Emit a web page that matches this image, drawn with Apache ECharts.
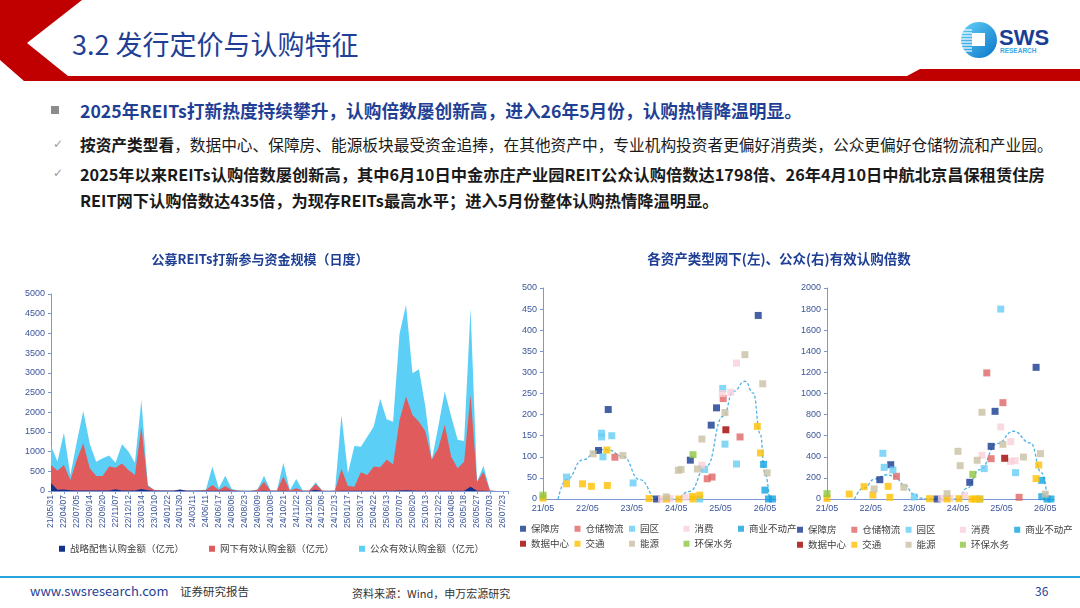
<!DOCTYPE html>
<html>
<head>
<meta charset="utf-8">
<script src="https://cdn.jsdelivr.net/npm/echarts@6/dist/echarts.min.js"></script>
<style>
  body { margin: 0; width: 1080px; height: 608px; overflow: hidden; background: #fff; position: relative;
         font-family: "Noto Sans CJK SC", sans-serif; }
  .abs { position: absolute; white-space: nowrap; }
  #main { position: absolute; left: 0; top: 0; width: 1080px; height: 608px; }
  .title { left: 72px; top: 25px; font-size: 27px; line-height: 38px; color: #1f3f95; }
  .l1 { left: 80px; top: 99px; font-size: 17.7px; line-height: 22px; font-weight: bold; color: #1f3f95; }
  .l2 { left: 80px; top: 134px; font-size: 15.7px; line-height: 22px; color: #1a1a1a; }
  .l3 { left: 80px; top: 161px; font-size: 16.25px; line-height: 26px; font-weight: bold; color: #1a1a1a; }
  .mark { color: #9a9a9a; font-family: "DejaVu Sans", sans-serif; font-size: 12px; }
</style>
</head>
<body>
<svg class="abs" width="1080" height="608" style="left:0;top:0">
  <defs>
    <linearGradient id="lg" x1="0" y1="0" x2="1" y2="1">
      <stop offset="0" stop-color="#63d3fa"/>
      <stop offset="1" stop-color="#0a74c6"/>
    </linearGradient>
  </defs>
  <!-- 页眉红色折线 -->
  <polygon points="0,0 82,0 27,43 68,76 907,76 920,69 1080,69 1080,81 24,81 0,60" fill="#c00000"/>
  <!-- logo -->
  <circle cx="979" cy="40" r="18" fill="url(#lg)"/>
  <rect x="972" y="33" width="13" height="13" fill="#fff"/>
  <g stroke="#fff" stroke-width="1.2">
    <line x1="961" y1="30" x2="972" y2="30"/><line x1="961" y1="33" x2="972" y2="33"/>
    <line x1="961" y1="36" x2="972" y2="36"/><line x1="961" y1="39" x2="972" y2="39"/>
    <line x1="961" y1="42" x2="972" y2="42"/><line x1="961" y1="45" x2="972" y2="45"/>
    <line x1="961" y1="48" x2="972" y2="48"/><line x1="962" y1="51" x2="972" y2="51"/>
  </g>
  <text x="999" y="45" font-family="Liberation Sans, sans-serif" font-weight="bold" font-size="22" fill="#1a3e94">SWS</text>
  <text x="1000" y="53" font-family="Liberation Sans, sans-serif" font-weight="bold" font-size="6.5" fill="#3aa6e6">RESEARCH</text>
  <!-- 页脚线 -->
  <rect x="0" y="576" width="1080" height="2" fill="#29a3db"/>
  <rect x="51" y="106" width="8" height="8" fill="#8c8c8c"/>
</svg>

<div class="abs title">3.2 发行定价与认购特征</div>
<div class="abs l1">2025年REITs打新热度持续攀升，认购倍数屡创新高，进入26年5月份，认购热情降温明显。</div>
<div class="abs mark" style="left:53px;top:137px;">✓</div>
<div class="abs l2"><b>按资产类型看</b>，数据中心、保障房、能源板块最受资金追捧，在其他资产中，专业机构投资者更偏好消费类，公众更偏好仓储物流和产业园。</div>
<div class="abs mark" style="left:53px;top:166px;">✓</div>
<div class="abs l3">2025年以来REITs认购倍数屡创新高，其中6月10日中金亦庄产业园REIT公众认购倍数达1798倍、26年4月10日中航北京昌保租赁住房<br>REIT网下认购倍数达435倍，为现存REITs最高水平；进入5月份整体认购热情降温明显。</div>

<div class="abs" style="left:30px;top:582px;font-size:13px;line-height:18px;color:#1f3f95;">www.swsresearch.com</div>
<div class="abs" style="left:180px;top:583px;font-size:11.5px;line-height:16px;color:#333;">证券研究报告</div>
<div class="abs" style="left:352px;top:585px;font-size:11px;line-height:16px;color:#333;">资料来源：Wind，申万宏源研究</div>
<div class="abs" style="left:1035px;top:583px;font-size:12px;line-height:16px;color:#1f3f95;">36</div>

<div id="main"></div>
<script>
// 左图：打新参与资金（亿元），每半个刻度一个点
var tickLabels = ['21/05/31','22/04/07','22/07/05','22/09/14','22/09/20','22/11/07','22/12/12','23/03/14','23/10/10',
    '24/01/22','24/01/30','24/03/11','24/06/11','24/06/17','24/08/06','24/08/23','24/09/09','24/10/08','24/10/21',
    '24/11/22','24/12/02','24/12/06','24/12/13','25/01/17','25/03/17','25/04/22','25/06/13','25/07/07','25/08/20',
    '25/10/13','25/12/22','26/04/08','26/05/18','26/05/27','26/07/03','26/07/23'];
var strategicAmt = [200,30,40,20,10,10,10,10,10,15,45,10,10,10,50,20,5,5,5,5,30,5,5,5,5,5,5,5,5,0,
    0,0,0,5,0,0,5,0,0,0,0,30,0,0,0,5,5,5,5,5,5,5,5,5,10,20,10,5,5,5,5,5,5,5,5,110,5,5,0,0,0];
var offlineAmt = [460,485,620,260,780,1200,565,370,370,605,545,690,525,395,1585,107,20,5,5,5,5,5,5,10,20,145,20,122,20,10,
    5,5,30,232,10,10,360,10,68,10,10,148,10,5,10,555,122,105,470,400,615,595,785,675,1790,2380,1920,1755,1505,785,
    1080,1675,865,570,740,2330,232,485,10,0,0];
var publicAmt = [490,235,820,120,460,820,625,365,450,280,130,485,465,315,675,23,0,10,5,5,5,5,5,5,5,470,45,263,25,10,
    5,5,10,153,10,5,355,10,237,5,5,42,0,0,0,1370,323,1030,650,975,1015,1740,1030,1080,2200,2330,1060,1330,630,0,
    550,845,1020,725,525,2200,0,150,0,0,0];
var amtNames = ['战略配售认购金额（亿元）', '网下有效认购金额（亿元）', '公众有效认购金额（亿元）'];
var amtColors = ['#14318a', '#e05b5b', '#5ccff7'];

// 右两图：[距21/05的年数, 认购倍数]
var yearLabels = ['21/05','22/05','23/05','24/05','25/05','26/05'];
var typeNames = ['保障房','仓储物流','园区','消费','商业不动产','数据中心','交通','能源','环保水务'];
var typeColors = ['#173a8e','#e06464','#66cdf5','#f9d0d8','#10a2e2','#a00000','#ffc000','#c9c0a3','#8dc63f'];

var offHousing = [[1.25,115],[1.47,212],[2.56,0],[3.32,92],[3.79,175],[3.91,216],[4.85,435]];
var offLogistics = [[1.62,99],[3.70,48],[3.81,52],[4.06,238],[4.44,147]];
var offPark = [[0.53,52],[1.32,156],[1.32,147],[1.35,100],[1.55,150],[2.03,38],[3.53,0],[3.64,70],[4.05,262],[4.10,130],[4.36,83]];
var offConsumer = [[2.67,0],[2.86,1],[3.2,4],[3.58,80],[4.04,250],[4.23,253],[4.36,322]];
var offCommercial = [[4.97,82],[5.0,21],[5.08,0],[5.17,0]];
var offDataCenter = [[4.12,164]];
var offTransport = [[0,2],[0.53,36],[0.89,36],[1.09,30],[1.44,116],[1.45,32],[2.39,1],[2.78,0],[3.06,0],[3.37,6],[3.38,0],[3.53,9],[4.83,172],[4.90,109]];
var offEnergy = [[1.13,107],[1.80,103],[2.78,5],[3.05,68],[3.11,70],[3.48,71],[3.58,142],[4.10,205],[4.55,342],[4.95,273],[5.05,62]];
var offEco = [[0,9],[3.38,105]];
var offTrend = [[0.34,0],[0.53,46],[0.9,93],[1.25,117],[1.45,117],[1.8,101],[2.18,46],[2.56,2],[2.7,0],[3.0,0],
    [3.3,18],[3.68,77],[4.06,196],[4.29,255],[4.55,279],[4.74,251],[4.89,156],[5.0,62],[5.1,0]];

var pubHousing = [[1.21,183],[1.46,325],[2.52,0],[3.27,158],[3.76,499],[3.85,831],[4.79,1248]];
var pubLogistics = [[1.59,215],[3.66,1195],[3.76,382],[4.03,913],[4.40,16]];
var pubPark = [[1.28,433],[1.31,300],[1.51,275],[2.0,19],[3.50,0],[3.60,288],[3.98,1800],[4.32,250]];
var pubConsumer = [[2.62,6],[2.82,6],[3.15,32],[3.55,414],[3.98,683],[4.2,357],[4.21,543],[4.31,363]];
var pubCommercial = [[4.92,177],[4.92,22],[5.04,0],[5.13,0]];
var pubDataCenter = [[4.07,386]];
var pubTransport = [[0,6],[0.51,47],[0.85,117],[1.05,38],[1.40,120],[1.44,16],[2.35,3],[2.75,0],[3.02,3],[3.32,0],[3.40,0],[3.50,0],[4.79,193],[4.85,322]];
var pubEnergy = [[1.08,95],[1.76,111],[2.75,51],[3.0,452],[3.05,316],[3.44,367],[3.55,822],[4.03,518],[4.50,398],[4.89,430],[5.0,47]];
var pubEco = [[0,51],[3.34,234]];
var pubTrend = [[0.63,0],[0.84,104],[1.1,190],[1.37,230],[1.55,215],[1.76,136],[2.0,45],[2.14,9],[2.25,0],[3.0,0],
    [3.2,100],[3.5,278],[3.9,525],[4.27,642],[4.66,531],[4.92,247],[5.04,25]];

var offlineByType = [offHousing, offLogistics, offPark, offConsumer, offCommercial, offDataCenter, offTransport, offEnergy, offEco];
var publicByType = [pubHousing, pubLogistics, pubPark, pubConsumer, pubCommercial, pubDataCenter, pubTransport, pubEnergy, pubEco];

var axisBlue = '#7d97d2';
var labelBlue = '#3b5597';
var numFont = 'Liberation Sans, Noto Sans CJK SC, sans-serif';

// 手工叠加：每层画累计值，后面的层在下方
var layers = [strategicAmt, offlineAmt, publicAmt];
var cumLayers = [];
layers.forEach(function(arr, k) {
    cumLayers.push(arr.map(function(v, i) {
        return [i / 2, k === 0 ? v : cumLayers[k - 1][i][1] + v];
    }));
});

function legendItem(name, left, top) {
    return {
        data: [name], left: left, top: top, padding: 0, icon: 'rect',
        itemWidth: 6, itemHeight: 6, selectedMode: false,
        textStyle: { fontSize: 9.5, color: '#404040', fontFamily: 'Noto Sans CJK SC' }
    };
}

function plainNum(v) { return String(v); }

function valueYAxis(grid, max, interval) {
    return {
        type: 'value', gridIndex: grid, min: 0, max: max, interval: interval,
        axisLine: { show: true, lineStyle: { color: axisBlue } },
        axisTick: { show: true, length: 3, lineStyle: { color: axisBlue } },
        axisLabel: { fontSize: 9, color: labelBlue, margin: 6, fontFamily: numFont, formatter: plainNum },
        splitLine: { show: false }
    };
}

function yearXAxis(grid, max) {
    return {
        type: 'value', gridIndex: grid, min: 0, max: max, interval: 1,
        axisLine: { show: true, onZero: false, lineStyle: { color: axisBlue } },
        axisTick: { show: false },
        axisLabel: { fontSize: 9, color: labelBlue, margin: 5, fontFamily: numFont,
            formatter: function(v) { return yearLabels[v] || ''; } },
        splitLine: { show: false }
    };
}

var series = [];
var legends = [];

// 左图面积
cumLayers.forEach(function(data, k) {
    series.push({
        name: amtNames[k], type: 'line', xAxisIndex: 0, yAxisIndex: 0,
        data: data, symbol: 'none', lineStyle: { width: 0 },
        itemStyle: { color: amtColors[k] },
        areaStyle: { color: amtColors[k], opacity: 1 },
        z: 5 - k
    });
    legends.push(legendItem(amtNames[k], 59 + k * 150, 544));
});

// 散点
typeNames.forEach(function(name, k) {
    series.push({
        name: name, type: 'scatter', xAxisIndex: 1, yAxisIndex: 1, data: offlineByType[k],
        symbol: 'rect', symbolSize: 7, itemStyle: { color: typeColors[k] }
    });
    series.push({
        name: name, type: 'scatter', xAxisIndex: 2, yAxisIndex: 2, data: publicByType[k],
        symbol: 'rect', symbolSize: 7, itemStyle: { color: typeColors[k] }
    });
    var row = k < 5 ? 0 : 1;
    var col = k < 5 ? k : k - 5;
    legends.push(legendItem(name, 520 + col * 54.5, 524 + row * 15));
    legends.push(legendItem(name, 797 + col * 54.3, 525 + row * 15));
});

[[offTrend, 1], [pubTrend, 2]].forEach(function(t) {
    series.push({
        type: 'line', xAxisIndex: t[1], yAxisIndex: t[1], data: t[0], smooth: 0.5, smoothMonotone: 'x',
        symbol: 'none', lineStyle: { type: [3, 2], width: 1.3, color: '#4db3e6' }, z: 1
    });
});

var chart = echarts.init(document.getElementById('main'));
chart.setOption({
    animation: false,
    textStyle: { fontFamily: 'Noto Sans CJK SC' },
    graphic: [
        { type: 'text', x: 260, y: 259, style: { text: '公募REITs打新参与资金规模（日度）', fill: '#1f3f95',
            font: 'bold 13px "Noto Sans CJK SC"', textAlign: 'center', textVerticalAlign: 'middle' } },
        { type: 'text', x: 779, y: 259, style: { text: '各资产类型网下(左)、公众(右)有效认购倍数', fill: '#1f3f95',
            font: 'bold 13.5px "Noto Sans CJK SC"', textAlign: 'center', textVerticalAlign: 'middle' } }
    ],
    grid: [
        { left: 51, top: 294, width: 457, height: 197 },
        { left: 543, top: 288, width: 233, height: 211 },
        { left: 827, top: 288, width: 227, height: 211 }
    ],
    xAxis: [
        {
            type: 'value', gridIndex: 0, min: 0, max: 35.4, interval: 1,
            axisLine: { show: true, lineStyle: { color: axisBlue } },
            axisTick: { show: true, length: 3, lineStyle: { color: axisBlue } },
            axisLabel: { rotate: 90, fontSize: 8.5, color: labelBlue, margin: 4, fontFamily: numFont,
                formatter: function(v) { return tickLabels[v] || ''; } },
            splitLine: { show: false }
        },
        yearXAxis(1, 5.25),
        yearXAxis(2, 5.2)
    ],
    yAxis: [
        valueYAxis(0, 5000, 500),
        valueYAxis(1, 500, 50),
        valueYAxis(2, 2000, 200)
    ],
    legend: legends,
    series: series
});
</script>
</body>
</html>
